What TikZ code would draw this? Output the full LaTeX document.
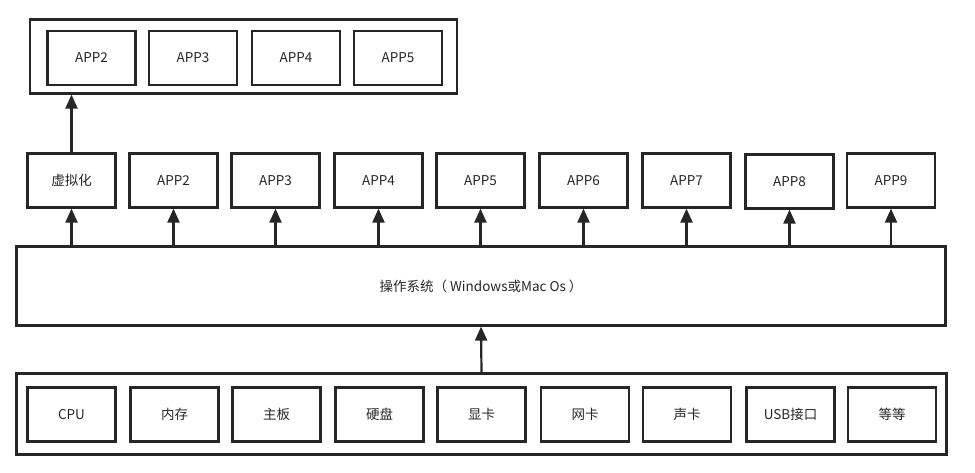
\documentclass[tikz,border=0pt]{standalone}
\usepackage{fontspec}
\setmainfont{Noto Sans CJK SC}
\usetikzlibrary{arrows.meta, positioning}
\definecolor{MyGray}{HTML}{262626}

\begin{document}
\begin{tikzpicture} [
			x=1pt, y=-1pt,
			every node/.style={draw=MyGray,line width=2.2pt,font=\fontsize{13.5}{16}\selectfont,text=MyGray,align=center},
			app/.style={rectangle,minimum width=88,minimum height=54,inner sep=0pt},
			frame/.style={rectangle,inner sep=0pt},
			up/.style={draw=MyGray,line width=2.2pt,-{Triangle[length=14pt,width=12pt]}}
		]
			\useasboundingbox (0,0) rectangle (975,473);
			% virtual machine
			\node at (243.5,56.5) [frame,minimum width=427,minimum height=74] (nodeVm) {};
			\node at (91.5,58) [app] (nodeVmApp2) {APP2};
			\node at (193,58) [app] (nodeVmApp3) {APP3};
			\node at (296,58) [app] (nodeVmApp4) {APP4};
			\node at (398,58) [app] (nodeVmApp5) {APP5};
			% applications
			\node at (71.5,180.5) [app] (nodeVirt) {虚拟化};
			\node at (173.5,180.5) [app] (nodeApp2) {APP2};
			\node at (275.5,180.5) [app] (nodeApp3) {APP3};
			\node at (378.5,180.5) [app] (nodeApp4) {APP4};
			\node at (480.5,180.5) [app] (nodeApp5) {APP5};
			\node at (583.5,180.5) [app] (nodeApp6) {APP6};
			\node at (686.5,180.5) [app] (nodeApp7) {APP7};
			\node at (789.5,181.5) [app] (nodeApp8) {APP8};
			\node at (891,180.5) [app] (nodeApp9) {APP9};
			% operating system
			\node at (481,286) [frame,minimum width=929,minimum height=79] (nodeOs) {操作系统（ Windows或Mac Os ）};
			% hardware
			\node at (481.5,414) [frame,minimum width=930,minimum height=81] (nodeHw) {};
			\node at (71.5,414.5) [app] (nodeCpu) {CPU};
			\node at (174.5,414.5) [app] (nodeRam) {内存};
			\node at (276.5,414.5) [app] (nodeBoard) {主板};
			\node at (379.5,414.5) [app] (nodeDisk) {硬盘};
			\node at (481.5,414.5) [app] (nodeGpu) {显卡};
			\node at (585,414.5) [app] (nodeNic) {网卡};
			\node at (687,414.5) [app] (nodeSound) {声卡};
			\node at (790.5,414.5) [app] (nodeUsb) {USB接口};
			\node at (892,414.5) [app] (nodeEtc) {等等};
			% arrows
			\draw[up] (nodeVirt.north) -- (nodeVm.south -| nodeVirt.north);
			\draw[up] (nodeOs.north -| nodeVirt.south) -- (nodeVirt.south);
			\draw[up] (nodeOs.north -| nodeApp2.south) -- (nodeApp2.south);
			\draw[up] (nodeOs.north -| nodeApp3.south) -- (nodeApp3.south);
			\draw[up] (nodeOs.north -| nodeApp4.south) -- (nodeApp4.south);
			\draw[up] (nodeOs.north -| nodeApp5.south) -- (nodeApp5.south);
			\draw[up] (nodeOs.north -| nodeApp6.south) -- (nodeApp6.south);
			\draw[up] (nodeOs.north -| nodeApp7.south) -- (nodeApp7.south);
			\draw[up] (nodeOs.north -| nodeApp8.south) -- (nodeApp8.south);
			\draw[up] (nodeOs.north -| nodeApp9.south) -- (nodeApp9.south);
			\draw[up] (nodeHw.north) -- (nodeOs.south);
		\end{tikzpicture}
\end{document}
